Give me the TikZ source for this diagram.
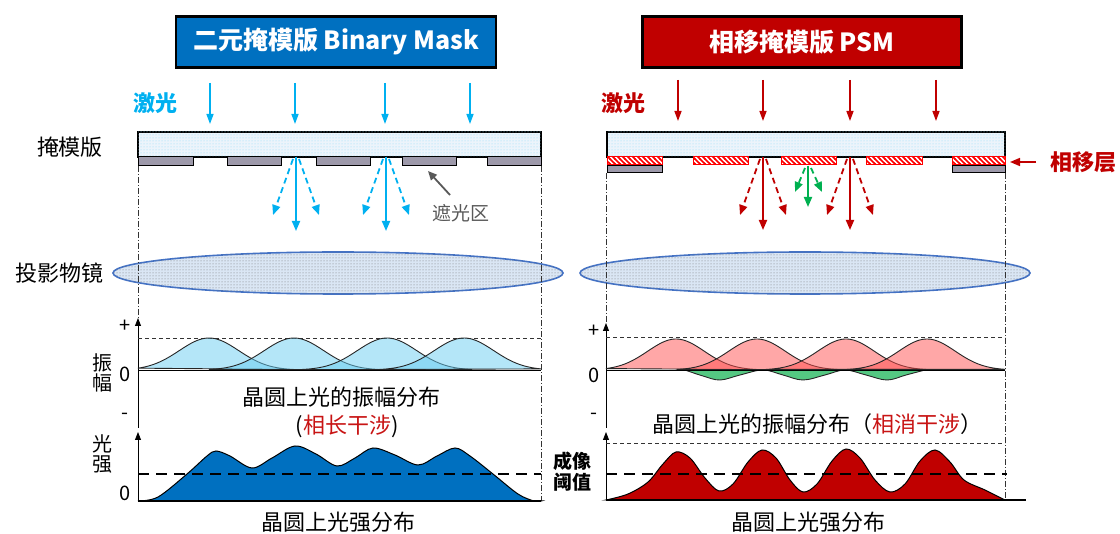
\documentclass[tikz,border=0pt]{standalone}
\usepackage{fontspec}
\setmainfont{Noto Sans CJK SC}
\usepackage{xcolor}
\usepackage{tikz}
\usetikzlibrary{arrows.meta}
\usetikzlibrary{patterns}

\definecolor{titleblue}{RGB}{0,112,192}
\definecolor{titlered}{RGB}{192,0,0}
\definecolor{laserblue}{RGB}{0,176,240}
\definecolor{lasergreen}{RGB}{0,176,80}
\definecolor{chromegray}{RGB}{157,153,170}
\definecolor{maskfill}{RGB}{236,244,251}
\definecolor{lensfill}{RGB}{218,230,244}
\definecolor{lensedge}{RGB}{68,114,196}
\definecolor{ampblue}{RGB}{105,205,241}
\definecolor{ampred}{RGB}{255,79,79}
\definecolor{ampgreen}{RGB}{84,200,130}
\definecolor{notegray}{RGB}{89,89,89}
\definecolor{txtred}{RGB}{200,20,20}

\pgfdeclarepatternformonly{phasehatch}{\pgfqpoint{-1pt}{-1pt}}{\pgfqpoint{6pt}{6pt}}{\pgfqpoint{5pt}{5pt}}{%
  \pgfsetlinewidth{1.6pt}%
  \pgfpathmoveto{\pgfqpoint{-1pt}{6pt}}%
  \pgfpathlineto{\pgfqpoint{6pt}{-1pt}}%
  \pgfusepath{stroke}}

\tikzset{
  lab/.style={font=\fontsize{22}{24}\selectfont},
  smalllab/.style={font=\fontsize{19}{20}\selectfont},
  ticklab/.style={font=\fontsize{20}{20}\selectfont},
  titlebox/.style={draw=black, line width=2.5pt, text=white, minimum width=320pt,
    minimum height=51pt, font=\fontsize{25}{27}\selectfont\bfseries},
  laser/.style={line width=1.4pt, -{Triangle[length=10pt,width=7pt]}},
  ray/.style={line width=1.8pt, -{Triangle[length=10pt,width=8pt]}},
  dray/.style={ray, dash pattern=on 6pt off 4pt},
  maskplate/.style={draw=black, line width=1.2pt, fill=maskfill,
    postaction={pattern=dots, pattern color=laserblue!45}},
  chrome/.style={draw=black, line width=1pt, fill=chromegray},
  phase/.style={draw=red, line width=1pt, fill=white,
    postaction={pattern=phasehatch, pattern color=red}},
  lens/.style={draw=lensedge, line width=1.6pt, fill=lensfill,
    postaction={pattern=dots, pattern color=black!55}},
  guide/.style={black!80, line width=.8pt, dash pattern=on 6pt off 2pt on 1pt off 2pt},
  axis/.style={line width=.9pt, -{Triangle[length=8pt,width=6pt]}},
  topline/.style={black!80, line width=.8pt, dash pattern=on 4pt off 3pt},
  thresh/.style={line width=2pt, dash pattern=on 11pt off 7pt},
  bell/.style={fill opacity=.5, draw=black!85, line width=.9pt},
}

\begin{document}
\begin{tikzpicture}[x=1pt,y=-1pt]
\useasboundingbox (0,0) rectangle (1120,534);

% titles
\node[titlebox, fill=titleblue] (tbin) at (336,42) {二元掩模版 Binary Mask};
\node[titlebox, fill=titlered, minimum width=319pt] (tpsm) at (802,42) {相移掩模版 PSM};

\node[lab] (mask) at (70,147) {掩模版};
\node[lab] (lens) at (60,273) {投影物镜};

%%% binary mask
\begin{scope}
  \node[lab, font=\fontsize{22}{24}\selectfont\bfseries, text=laserblue] (lzb) at (155,103) {激光};
  \foreach \x in {210,295,385,470}
    \draw[laser, laserblue] (\x,83) -- (\x,124);
  \draw[maskplate] (138,132) rectangle (541,157);
  \foreach \a/\b in {138/193,227/281,316/370,402/456,487/541}
    \draw[chrome] (\a,157) rectangle (\b,166);
  \foreach \x in {296,386} {
    \draw[ray, laserblue] (\x,157) -- (\x,231);
    \draw[dray, laserblue] (\x-3,159) -- (\x-23,215);
    \draw[dray, laserblue] (\x+3,159) -- (\x+23,215);
  }
  \node[smalllab, text=notegray] (shade) at (461,213) {遮光区};
  \coordinate (G1) at (450,195);
  \coordinate (G2) at (428,171);
  \draw[line width=1.8pt, notegray, -{Triangle[length=9pt,width=8pt]}] (G1) -- (G2);
  \draw[lens] (338,273) ellipse [x radius=225, y radius=21];
  \draw[guide] (138,166) -- (138,318);
  \draw[guide] (541,166) -- (541,501);

  % amplitude
  \draw[axis] (138,428) -- (138,318);
  \draw[topline] (138,338) -- (541,338);
  \foreach \c/\a/\b in {209/138/294, 294/209/379, 387/302/472, 464/379/541}
    \filldraw[bell, fill=ampblue] plot[domain=\a:\b, samples=60]
      (\x,{370-32*exp(-((\x-\c)/42)^2)}) -- cycle;
  \draw[line width=.9pt] (138,370) -- (541,370);
  \node[ticklab] (lp) at (125,326) {+};
  \node[ticklab] (l0) at (125,374) {0};
  \node[ticklab] (lm) at (125,416) {-};
  \node[lab, align=center, font=\fontsize{20}{20}\selectfont] (lamp) at (102,373) {振\\幅};
  \node[lab] (lamptxt) at (341,397) {晶圆上光的振幅分布};
  \node[lab] (lcon) at (347,426) {(\textcolor{txtred}{相长干涉})};

  % intensity
  \draw[axis] (138,501) -- (138,432);
  \filldraw[fill=titleblue, draw=black, line width=1pt] plot[smooth, tension=.55] coordinates
    {(138,501) (158,497) (187,474) (207,456) (216,451) (230,456) (252,468) (272,458) (295,446)
     (316,454) (337,466) (355,458) (373,448) (395,455) (418,465) (437,456) (455,448) (470,456)
     (493,474) (518,494) (534,501) (541,501)} -- cycle;
  \draw[thresh] (138,474) -- (541,474);
  \draw[line width=2pt] (138,501) -- (541,501);
  \node[ticklab] (li0) at (125,493) {0};
  \node[lab, align=center, font=\fontsize{20}{20}\selectfont] (lint) at (102,454) {光\\强};
  \node[lab] (linttxt) at (338,522) {晶圆上光强分布};
\end{scope}

%%% phase shift mask
\begin{scope}
  \node[lab, font=\fontsize{22}{24}\selectfont\bfseries, text=titlered] (lzr) at (623,103) {激光};
  \foreach \x in {678,763,850,936}
    \draw[laser, titlered] (\x,80) -- (\x,121);
  \draw[maskplate] (607,132) rectangle (1005,157);
  \foreach \a/\b in {607/662,693/748,781/836,866/922,952/1005}
    \draw[phase] (\a,157) rectangle (\b,165);
  \foreach \a/\b in {607/662,952/1005}
    \draw[chrome] (\a,166) rectangle (\b,173);
  \foreach \x in {763,850} {
    \draw[ray, titlered] (\x,157) -- (\x,230);
    \draw[dray, titlered] (\x-3,159) -- (\x-23,215);
    \draw[dray, titlered] (\x+3,159) -- (\x+23,215);
  }
  \draw[ray, lasergreen] (808,166) -- (808,207);
  \draw[dray, lasergreen] (805,168) -- (795,192);
  \draw[dray, lasergreen] (811,168) -- (822,192);
  \node[lab, font=\fontsize{22}{24}\selectfont\bfseries, text=titlered] (psl) at (1083,162) {相移层};
  \coordinate (P1) at (1036,162);
  \coordinate (P2) at (1010,162);
  \draw[line width=1.6pt, titlered, -{Triangle[length=10pt,width=8pt]}] (P1) -- (P2);
  \draw[lens] (805,273) ellipse [x radius=225, y radius=21];
  \draw[guide] (606,173) -- (606,323);
  \draw[guide] (1005,173) -- (1005,500);

  % amplitude
  \draw[axis] (606,428) -- (606,323);
  \draw[topline] (606,337) -- (1005,337);
  \filldraw[fill=ampgreen, draw=black!85, line width=.9pt] plot[smooth, tension=.6] coordinates
    {(685,370) (703,376) (720,380) (740,375) (763,370) (783,375) (803,380) (825,375) (845,370)
     (866,375) (887,380) (906,375) (925,370)} -- cycle;
  \foreach \c/\a/\b in {676/606/761, 757/677/842, 846/766/926, 927/847/1005}
    \filldraw[bell, fill=ampred] plot[domain=\a:\b, samples=60]
      (\x,{370-31*exp(-((\x-\c)/40)^2)}) -- cycle;
  \draw[line width=.9pt] (606,370) -- (1005,370);
  \node[ticklab] (rp) at (594,331) {+};
  \node[ticklab] (r0) at (594,375) {0};
  \node[ticklab] (rm) at (594,416) {-};
  \node[lab] (ramptxt) at (817,424) {晶圆上光的振幅分布（\textcolor{txtred}{相消干涉}）};

  % intensity
  \draw[axis] (606,500) -- (606,432);
  \draw[topline] (606,443) -- (1005,443);
  \filldraw[fill=titlered, draw=black, line width=1pt] plot[smooth, tension=.55] coordinates
    {(606,500) (628,494) (648,482) (663,464) (676,452) (690,458) (705,478) (719,491) (733,484)
     (748,462) (762,450) (776,458) (790,480) (803,492) (817,484) (832,461) (846,449) (860,458)
     (875,480) (890,492) (905,484) (920,461) (935,450) (950,462) (964,480) (985,490) (1005,500)} -- cycle;
  \draw[thresh] (606,474) -- (1007,474);
  \draw[line width=2pt] (606,500) -- (1026,500);
  \node[lab, align=center, font=\fontsize{19}{21}\selectfont\bfseries] (rthr) at (572,472) {成像\\阈值};
  \node[lab] (rinttxt) at (808,522) {晶圆上光强分布};
\end{scope}
\end{tikzpicture}
\end{document}
